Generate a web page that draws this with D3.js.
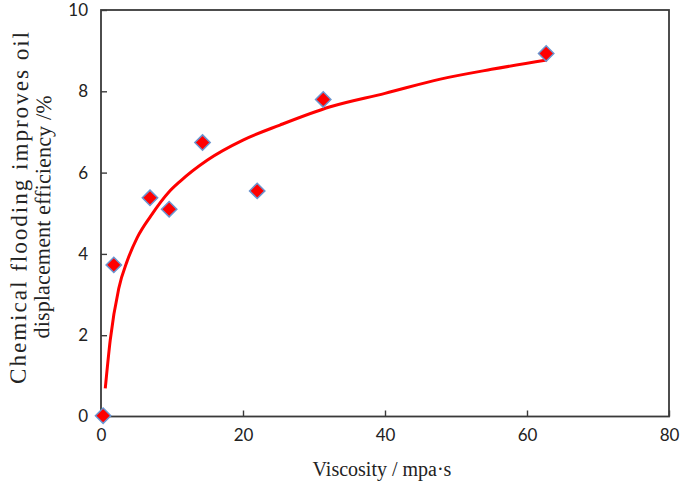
<!DOCTYPE html>
<html>
<head>
<meta charset="utf-8">
<script src="https://cdn.jsdelivr.net/npm/d3@7"></script>
<style>
  body { margin: 0; background: #fff; }
  svg { display: block; }
</style>
</head>
<body>
<div id="chart"></div>
<script>
// measured points: viscosity (mpa·s) vs improvement in displacement efficiency (%)
const viscosity = [0.3, 1.8, 6.9, 9.6, 14.3, 22.0, 31.3, 62.7];
const efficiency = [0.02, 3.73, 5.38, 5.10, 6.74, 5.55, 7.80, 8.93];

// red trend line
const trendX = [0.6, 1.3, 2.5, 3.7, 5.1, 7.0, 9.6, 11.1, 15.0, 20, 25.2, 32.3, 40, 47.8, 55, 62.8];
const trendY = [0.69, 1.88, 3.15, 3.83, 4.40, 4.93, 5.53, 5.78, 6.31, 6.80, 7.17, 7.62, 7.95, 8.30, 8.54, 8.77];

const xTicks = [0, 20, 40, 60, 80];
const yTicks = [0, 2, 4, 6, 8, 10];

const W = 685, H = 492;
const margin = { top: 10, right: 16, bottom: 75.5, left: 101 };
const width = W - margin.left - margin.right;
const height = H - margin.top - margin.bottom;

const svg = d3.select("#chart")
  .append("svg")
  .attr("width", W)
  .attr("height", H);

const g = svg.append("g")
  .attr("transform", `translate(${margin.left},${margin.top})`);

const x = d3.scaleLinear().domain([0, 80]).range([0, width]);
const y = d3.scaleLinear().domain([0, 10]).range([height, 0]);

const axisColor = "#3a3a3a";
const tickFont = "Lato, 'Open Sans', sans-serif";

// frame
g.append("rect")
  .attr("width", width)
  .attr("height", height)
  .attr("fill", "none")
  .attr("stroke", axisColor)
  .attr("stroke-width", 1.8);

// bottom axis, ticks pointing inward
const xAxis = g.append("g")
  .attr("transform", `translate(0,${height})`)
  .call(d3.axisBottom(x).tickValues(xTicks).tickSize(-6).tickPadding(12));

// left axis
const yAxis = g.append("g")
  .call(d3.axisLeft(y).tickValues(yTicks).tickSize(-6).tickPadding(13));

[xAxis, yAxis].forEach(a => {
  a.select(".domain").remove();
  a.selectAll(".tick line").attr("stroke", axisColor).attr("stroke-width", 1.4);
  a.selectAll(".tick text")
    .attr("fill", "#222")
    .style("font-family", tickFont)
    .style("font-size", "17px");
});

// trend line
const line = d3.line()
  .x((d, i) => x(trendX[i]))
  .y(d => y(d))
  .curve(d3.curveMonotoneX);

g.append("path")
  .datum(trendY)
  .attr("fill", "none")
  .attr("stroke", "#ff0000")
  .attr("stroke-width", 3)
  .attr("d", line);

// diamond markers
const diamond = d3.symbol().type(d3.symbolDiamond2).size(150);
g.selectAll(".pt")
  .data(viscosity)
  .enter()
  .append("path")
  .attr("class", "pt")
  .attr("transform", (d, i) => `translate(${x(d)},${y(efficiency[i])})`)
  .attr("d", diamond)
  .attr("fill", "#ff0000")
  .attr("stroke", "#6a95d0")
  .attr("stroke-width", 1.5);

// axis titles
const serif = "'Liberation Serif', 'Times New Roman', serif";

svg.append("text")
  .attr("x", 382)
  .attr("y", 476)
  .attr("text-anchor", "middle")
  .style("font-family", serif)
  .style("font-size", "20px")
  .attr("fill", "#222")
  .text("Viscosity  / mpa·s");

// y title: two lines, the first one spread out
const yTitle = [
  { text: "Chemical  flooding  improves  oil", cx: 27, cy: 208, len: 352, size: 23 },
  { text: "displacement  efficiency  /%", cx: 50, cy: 217, len: 243, size: 22 },
];
svg.selectAll(".ytitle")
  .data(yTitle)
  .enter()
  .append("text")
  .attr("class", "ytitle")
  .attr("transform", d => `translate(${d.cx},${d.cy}) rotate(-89.5)`)
  .attr("text-anchor", "middle")
  .attr("textLength", d => d.len)
  .attr("lengthAdjust", "spacing")
  .style("font-family", serif)
  .style("font-size", d => `${d.size}px`)
  .attr("fill", "#222")
  .text(d => d.text);
</script>
</body>
</html>
